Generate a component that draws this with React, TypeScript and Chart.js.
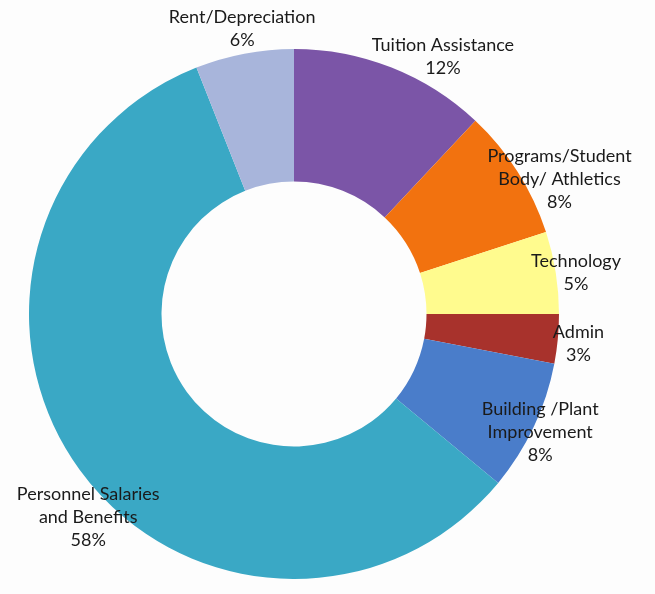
import React, { useEffect, useRef } from "react";
import { Chart, registerables } from "chart.js";

Chart.register(...registerables);

const categories: string[][] = [
  ["Tuition Assistance"],
  ["Programs/Student", "Body/ Athletics"],
  ["Technology"],
  ["Admin"],
  ["Building /Plant", "Improvement"],
  ["Personnel Salaries", "and Benefits"],
  ["Rent/Depreciation"],
];
const values: number[] = [12, 8, 5, 3, 8, 58, 6];
const percentLabels: string[] = ["12%", "8%", "5%", "3%", "8%", "58%", "6%"];

const colors = ["#7B55A7", "#F2720F", "#FFFB8E", "#A8322C", "#4A7DCA", "#3AA8C5", "#A8B5DB"];
// label placement: extra radius beyond outer edge (px), angle nudge (deg)
const labelPlace = [
  { dr: 32, da: 8.5 },
  { dr: 33, da: 5.4 },
  { dr: 20, da: 0.7 },
  { dr: 21, da: 0.6 },
  { dr: 8, da: 0.4 },
  { dr: 24, da: -8.6 },
  { dr: 25, da: 0.5 },
];

const labelPlugin = {
  id: "outerLabels",
  afterDatasetsDraw(chart: any) {
    const ctx = chart.ctx;
    const meta = chart.getDatasetMeta(0);
    ctx.save();
    ctx.font = "18px Lato, 'Open Sans', sans-serif";
    ctx.fillStyle = "#1a1a1a";
    ctx.textAlign = "center";
    ctx.textBaseline = "middle";
    const lh = 23;
    meta.data.forEach((arc: any, i: number) => {
      const p = arc.getProps(["x", "y", "startAngle", "endAngle", "outerRadius"], true);
      const mid = (p.startAngle + p.endAngle) / 2 + (labelPlace[i].da * Math.PI) / 180;
      const r = p.outerRadius + labelPlace[i].dr;
      const cx = p.x + Math.cos(mid) * r;
      const cy = p.y + Math.sin(mid) * r;
      const lines = [...categories[i], percentLabels[i]];
      const y0 = cy - ((lines.length - 1) * lh) / 2;
      lines.forEach((t, k) => ctx.fillText(t, cx, y0 + k * lh));
    });
    ctx.restore();
  },
};

export default function App() {
  const ref = useRef<HTMLCanvasElement | null>(null);
  useEffect(() => {
    if (!ref.current) return;
    const chart = new Chart(ref.current, {
      type: "doughnut",
      data: {
        labels: categories.map((c) => c.join(" ")),
        datasets: [
          {
            data: values,
            backgroundColor: colors,
            borderWidth: 0,
          },
        ],
      },
      options: {
        responsive: false,
        animation: false,
        cutout: "50%",
        layout: { padding: { left: 29, right: 96, top: 49, bottom: 15 } },
        plugins: { legend: { display: false }, tooltip: { enabled: false } },
      },
      plugins: [labelPlugin],
    });
    return () => chart.destroy();
  }, []);
  return (
    <div style={{ position: "absolute", left: 0, top: 0, width: 655, height: 594, background: "#fdfdfd" }}>
      <canvas ref={ref} width={655} height={594} style={{ width: 655, height: 594, display: "block" }} />
    </div>
  );
}
